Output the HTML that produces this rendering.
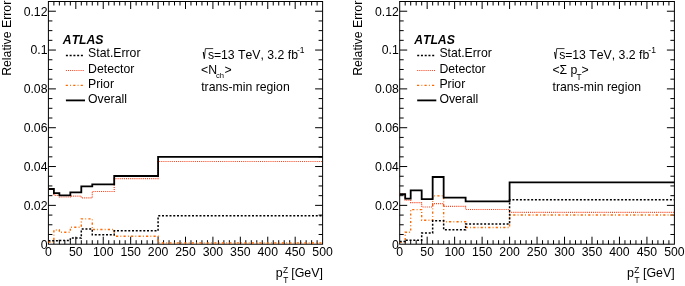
<!DOCTYPE html><html><head><meta charset="utf-8"><style>html,body{margin:0;padding:0;background:#fff;}body{width:685px;height:286px;overflow:hidden;}svg{display:block;will-change:transform;}text{font-family:"Liberation Sans",sans-serif;fill:#000;font-kerning:none;font-size:12.25px;}.bi{font-weight:bold;font-style:italic;}</style></head><body>
<svg width="685" height="286" viewBox="0 0 685 286">
<rect x="48.4" y="1.5" width="274.20" height="242.70" fill="none" stroke="#000" stroke-width="1"/>
<path d="M53.88,244.2 v-4 M53.88,1.5 v4 M59.37,244.2 v-4 M59.37,1.5 v4 M64.85,244.2 v-4 M64.85,1.5 v4 M70.34,244.2 v-4 M70.34,1.5 v4 M75.82,244.2 v-7.5 M75.82,1.5 v7.5 M81.30,244.2 v-4 M81.30,1.5 v4 M86.79,244.2 v-4 M86.79,1.5 v4 M92.27,244.2 v-4 M92.27,1.5 v4 M97.76,244.2 v-4 M97.76,1.5 v4 M103.24,244.2 v-7.5 M103.24,1.5 v7.5 M108.72,244.2 v-4 M108.72,1.5 v4 M114.21,244.2 v-4 M114.21,1.5 v4 M119.69,244.2 v-4 M119.69,1.5 v4 M125.18,244.2 v-4 M125.18,1.5 v4 M130.66,244.2 v-7.5 M130.66,1.5 v7.5 M136.14,244.2 v-4 M136.14,1.5 v4 M141.63,244.2 v-4 M141.63,1.5 v4 M147.11,244.2 v-4 M147.11,1.5 v4 M152.60,244.2 v-4 M152.60,1.5 v4 M158.08,244.2 v-7.5 M158.08,1.5 v7.5 M163.56,244.2 v-4 M163.56,1.5 v4 M169.05,244.2 v-4 M169.05,1.5 v4 M174.53,244.2 v-4 M174.53,1.5 v4 M180.02,244.2 v-4 M180.02,1.5 v4 M185.50,244.2 v-7.5 M185.50,1.5 v7.5 M190.98,244.2 v-4 M190.98,1.5 v4 M196.47,244.2 v-4 M196.47,1.5 v4 M201.95,244.2 v-4 M201.95,1.5 v4 M207.44,244.2 v-4 M207.44,1.5 v4 M212.92,244.2 v-7.5 M212.92,1.5 v7.5 M218.40,244.2 v-4 M218.40,1.5 v4 M223.89,244.2 v-4 M223.89,1.5 v4 M229.37,244.2 v-4 M229.37,1.5 v4 M234.86,244.2 v-4 M234.86,1.5 v4 M240.34,244.2 v-7.5 M240.34,1.5 v7.5 M245.82,244.2 v-4 M245.82,1.5 v4 M251.31,244.2 v-4 M251.31,1.5 v4 M256.79,244.2 v-4 M256.79,1.5 v4 M262.28,244.2 v-4 M262.28,1.5 v4 M267.76,244.2 v-7.5 M267.76,1.5 v7.5 M273.24,244.2 v-4 M273.24,1.5 v4 M278.73,244.2 v-4 M278.73,1.5 v4 M284.21,244.2 v-4 M284.21,1.5 v4 M289.70,244.2 v-4 M289.70,1.5 v4 M295.18,244.2 v-7.5 M295.18,1.5 v7.5 M300.66,244.2 v-4 M300.66,1.5 v4 M306.15,244.2 v-4 M306.15,1.5 v4 M311.63,244.2 v-4 M311.63,1.5 v4 M317.12,244.2 v-4 M317.12,1.5 v4 M48.4,234.49 h4 M322.6,234.49 h-4 M48.4,224.78 h4 M322.6,224.78 h-4 M48.4,215.08 h4 M322.6,215.08 h-4 M48.4,205.37 h7.5 M322.6,205.37 h-7.5 M48.4,195.66 h4 M322.6,195.66 h-4 M48.4,185.95 h4 M322.6,185.95 h-4 M48.4,176.25 h4 M322.6,176.25 h-4 M48.4,166.54 h7.5 M322.6,166.54 h-7.5 M48.4,156.83 h4 M322.6,156.83 h-4 M48.4,147.12 h4 M322.6,147.12 h-4 M48.4,137.42 h4 M322.6,137.42 h-4 M48.4,127.71 h7.5 M322.6,127.71 h-7.5 M48.4,118.00 h4 M322.6,118.00 h-4 M48.4,108.29 h4 M322.6,108.29 h-4 M48.4,98.59 h4 M322.6,98.59 h-4 M48.4,88.88 h7.5 M322.6,88.88 h-7.5 M48.4,79.17 h4 M322.6,79.17 h-4 M48.4,69.47 h4 M322.6,69.47 h-4 M48.4,59.76 h4 M322.6,59.76 h-4 M48.4,50.05 h7.5 M322.6,50.05 h-7.5 M48.4,40.34 h4 M322.6,40.34 h-4 M48.4,30.63 h4 M322.6,30.63 h-4 M48.4,20.93 h4 M322.6,20.93 h-4 M48.4,11.22 h7.5 M322.6,11.22 h-7.5 M48.4,1.51 h4 M322.6,1.51 h-4" stroke="#000" stroke-width="1" fill="none"/>
<path d="M48.40,242.00 H53.88 V230.00 H59.37 V232.20 H70.34 V227.20 H81.30 V218.90 H92.27 V229.50 H114.21 V236.30 H158.08 V243.00 H322.60" fill="none" stroke="#ff6a00" stroke-width="1.4" stroke-dasharray="2.2 2.2 0.9 2.2"/>
<path d="M48.40,189.00 H53.88 V195.30 H59.37 V197.00 H70.34 V196.20 H81.30 V197.80 H92.27 V191.50 H114.21 V178.70 H158.08 V161.50 H322.60" fill="none" stroke="#ff3c14" stroke-width="1.2" stroke-dasharray="1 1.1"/>
<path d="M48.40,240.80 H53.88 V240.80 H59.37 V240.50 H70.34 V238.00 H81.30 V229.10 H92.27 V234.80 H114.21 V230.80 H158.08 V215.80 H322.60" fill="none" stroke="#000" stroke-width="1.5" stroke-dasharray="2 1.75"/>
<path d="M48.40,189.00 H53.88 V193.20 H59.37 V195.40 H70.34 V192.40 H81.30 V186.30 H92.27 V184.30 H114.21 V176.00 H158.08 V156.90 H322.60" fill="none" stroke="#000" stroke-width="1.8"/>
<text x="47.50" y="248.60" text-anchor="end">0</text>
<text x="47.50" y="209.77" text-anchor="end">0.02</text>
<text x="47.50" y="170.94" text-anchor="end">0.04</text>
<text x="47.50" y="132.11" text-anchor="end">0.06</text>
<text x="47.50" y="93.28" text-anchor="end">0.08</text>
<text x="47.50" y="54.45" text-anchor="end">0.1</text>
<text x="47.50" y="15.62" text-anchor="end">0.12</text>
<text x="48.40" y="255.70" text-anchor="middle">0</text>
<text x="75.82" y="255.70" text-anchor="middle">50</text>
<text x="103.24" y="255.70" text-anchor="middle">100</text>
<text x="130.66" y="255.70" text-anchor="middle">150</text>
<text x="158.08" y="255.70" text-anchor="middle">200</text>
<text x="185.50" y="255.70" text-anchor="middle">250</text>
<text x="212.92" y="255.70" text-anchor="middle">300</text>
<text x="240.34" y="255.70" text-anchor="middle">350</text>
<text x="267.76" y="255.70" text-anchor="middle">400</text>
<text x="295.18" y="255.70" text-anchor="middle">450</text>
<text x="322.60" y="255.70" text-anchor="middle">500</text>
<text transform="translate(10.80,0.7) rotate(-90)" text-anchor="end" style="font-size:12.3px">Relative Error</text>
<text x="322.90" y="277.2" text-anchor="end" style="font-size:12.4px">[GeV]</text>
<text x="275.80" y="277.20" style="font-size:12.4px">p</text>
<text x="283.00" y="272.90" style="font-size:8.3px">Z</text>
<text x="283.20" y="282.60" style="font-size:8.3px">T</text>
<text x="62.85" y="43.60" class="bi" style="font-size:12.2px">ATLAS</text>
<text x="88.10" y="57.10" >Stat.Error</text>
<text x="88.10" y="72.80" >Detector</text>
<text x="88.10" y="87.80" >Prior</text>
<text x="88.10" y="103.00" >Overall</text>
<path d="M65.90,55.6 H84.00" fill="none" stroke="#000" stroke-width="1.5" stroke-dasharray="2 1.75"/>
<path d="M65.90,70.5 H84.50" fill="none" stroke="#ff3c14" stroke-width="1.2" stroke-dasharray="1 1.1"/>
<path d="M65.70,85.4 H84.00" fill="none" stroke="#ff6a00" stroke-width="1.4" stroke-dasharray="2.2 2.2 0.9 2.2"/>
<path d="M65.90,100.4 H85.00" fill="none" stroke="#000" stroke-width="1.8"/>
<path d="M203.30,52 L204.40,58.7" fill="none" stroke="#000" stroke-width="1.15"/>
<path d="M204.30,58.7 L205.40,48.6 H213.20" fill="none" stroke="#000" stroke-width="0.8"/>
<text x="207.90" y="58.80" >s=</text>
<text x="221.00" y="58.80" >13 TeV, 3.2 fb</text>
<text x="297.00" y="53.40" style="font-size:8.5px">-1</text>
<text x="201.10" y="73.60" >&lt;N</text>
<text x="216.00" y="77.70" style="font-size:7.6px">ch</text>
<text x="224.40" y="73.60" >&gt;</text>
<text x="201.20" y="90.80" >trans-min region</text>
<rect x="399.7" y="1.5" width="274.70" height="242.70" fill="none" stroke="#000" stroke-width="1"/>
<path d="M405.19,244.2 v-4 M405.19,1.5 v4 M410.69,244.2 v-4 M410.69,1.5 v4 M416.18,244.2 v-4 M416.18,1.5 v4 M421.68,244.2 v-4 M421.68,1.5 v4 M427.17,244.2 v-7.5 M427.17,1.5 v7.5 M432.66,244.2 v-4 M432.66,1.5 v4 M438.16,244.2 v-4 M438.16,1.5 v4 M443.65,244.2 v-4 M443.65,1.5 v4 M449.15,244.2 v-4 M449.15,1.5 v4 M454.64,244.2 v-7.5 M454.64,1.5 v7.5 M460.13,244.2 v-4 M460.13,1.5 v4 M465.63,244.2 v-4 M465.63,1.5 v4 M471.12,244.2 v-4 M471.12,1.5 v4 M476.62,244.2 v-4 M476.62,1.5 v4 M482.11,244.2 v-7.5 M482.11,1.5 v7.5 M487.60,244.2 v-4 M487.60,1.5 v4 M493.10,244.2 v-4 M493.10,1.5 v4 M498.59,244.2 v-4 M498.59,1.5 v4 M504.09,244.2 v-4 M504.09,1.5 v4 M509.58,244.2 v-7.5 M509.58,1.5 v7.5 M515.07,244.2 v-4 M515.07,1.5 v4 M520.57,244.2 v-4 M520.57,1.5 v4 M526.06,244.2 v-4 M526.06,1.5 v4 M531.56,244.2 v-4 M531.56,1.5 v4 M537.05,244.2 v-7.5 M537.05,1.5 v7.5 M542.54,244.2 v-4 M542.54,1.5 v4 M548.04,244.2 v-4 M548.04,1.5 v4 M553.53,244.2 v-4 M553.53,1.5 v4 M559.03,244.2 v-4 M559.03,1.5 v4 M564.52,244.2 v-7.5 M564.52,1.5 v7.5 M570.01,244.2 v-4 M570.01,1.5 v4 M575.51,244.2 v-4 M575.51,1.5 v4 M581.00,244.2 v-4 M581.00,1.5 v4 M586.50,244.2 v-4 M586.50,1.5 v4 M591.99,244.2 v-7.5 M591.99,1.5 v7.5 M597.48,244.2 v-4 M597.48,1.5 v4 M602.98,244.2 v-4 M602.98,1.5 v4 M608.47,244.2 v-4 M608.47,1.5 v4 M613.97,244.2 v-4 M613.97,1.5 v4 M619.46,244.2 v-7.5 M619.46,1.5 v7.5 M624.95,244.2 v-4 M624.95,1.5 v4 M630.45,244.2 v-4 M630.45,1.5 v4 M635.94,244.2 v-4 M635.94,1.5 v4 M641.44,244.2 v-4 M641.44,1.5 v4 M646.93,244.2 v-7.5 M646.93,1.5 v7.5 M652.42,244.2 v-4 M652.42,1.5 v4 M657.92,244.2 v-4 M657.92,1.5 v4 M663.41,244.2 v-4 M663.41,1.5 v4 M668.91,244.2 v-4 M668.91,1.5 v4 M399.7,234.49 h4 M674.4,234.49 h-4 M399.7,224.78 h4 M674.4,224.78 h-4 M399.7,215.08 h4 M674.4,215.08 h-4 M399.7,205.37 h7.5 M674.4,205.37 h-7.5 M399.7,195.66 h4 M674.4,195.66 h-4 M399.7,185.95 h4 M674.4,185.95 h-4 M399.7,176.25 h4 M674.4,176.25 h-4 M399.7,166.54 h7.5 M674.4,166.54 h-7.5 M399.7,156.83 h4 M674.4,156.83 h-4 M399.7,147.12 h4 M674.4,147.12 h-4 M399.7,137.42 h4 M674.4,137.42 h-4 M399.7,127.71 h7.5 M674.4,127.71 h-7.5 M399.7,118.00 h4 M674.4,118.00 h-4 M399.7,108.29 h4 M674.4,108.29 h-4 M399.7,98.59 h4 M674.4,98.59 h-4 M399.7,88.88 h7.5 M674.4,88.88 h-7.5 M399.7,79.17 h4 M674.4,79.17 h-4 M399.7,69.47 h4 M674.4,69.47 h-4 M399.7,59.76 h4 M674.4,59.76 h-4 M399.7,50.05 h7.5 M674.4,50.05 h-7.5 M399.7,40.34 h4 M674.4,40.34 h-4 M399.7,30.63 h4 M674.4,30.63 h-4 M399.7,20.93 h4 M674.4,20.93 h-4 M399.7,11.22 h7.5 M674.4,11.22 h-7.5 M399.7,1.51 h4 M674.4,1.51 h-4" stroke="#000" stroke-width="1" fill="none"/>
<path d="M399.70,242.10 H405.19 V232.20 H410.69 V209.60 H421.68 V220.20 H432.66 V195.90 H443.65 V221.70 H465.63 V227.50 H509.58 V215.00 H674.40" fill="none" stroke="#ff6a00" stroke-width="1.4" stroke-dasharray="2.2 2.2 0.9 2.2"/>
<path d="M399.70,194.20 H405.19 V200.20 H410.69 V202.60 H421.68 V207.00 H432.66 V203.60 H443.65 V206.40 H465.63 V209.50 H509.58 V212.40 H674.40" fill="none" stroke="#ff3c14" stroke-width="1.2" stroke-dasharray="1 1.1"/>
<path d="M399.70,241.60 H405.19 V240.20 H410.69 V240.20 H421.68 V233.10 H432.66 V220.80 H443.65 V229.80 H465.63 V224.00 H509.58 V199.80 H674.40" fill="none" stroke="#000" stroke-width="1.5" stroke-dasharray="2 1.75"/>
<path d="M399.70,194.20 H405.19 V198.60 H410.69 V190.40 H421.68 V199.20 H432.66 V177.00 H443.65 V197.60 H465.63 V201.30 H509.58 V182.40 H674.40" fill="none" stroke="#000" stroke-width="1.8"/>
<text x="398.80" y="248.60" text-anchor="end">0</text>
<text x="398.80" y="209.77" text-anchor="end">0.02</text>
<text x="398.80" y="170.94" text-anchor="end">0.04</text>
<text x="398.80" y="132.11" text-anchor="end">0.06</text>
<text x="398.80" y="93.28" text-anchor="end">0.08</text>
<text x="398.80" y="54.45" text-anchor="end">0.1</text>
<text x="398.80" y="15.62" text-anchor="end">0.12</text>
<text x="399.70" y="255.70" text-anchor="middle">0</text>
<text x="427.17" y="255.70" text-anchor="middle">50</text>
<text x="454.64" y="255.70" text-anchor="middle">100</text>
<text x="482.11" y="255.70" text-anchor="middle">150</text>
<text x="509.58" y="255.70" text-anchor="middle">200</text>
<text x="537.05" y="255.70" text-anchor="middle">250</text>
<text x="564.52" y="255.70" text-anchor="middle">300</text>
<text x="591.99" y="255.70" text-anchor="middle">350</text>
<text x="619.46" y="255.70" text-anchor="middle">400</text>
<text x="646.93" y="255.70" text-anchor="middle">450</text>
<text x="674.40" y="255.70" text-anchor="middle">500</text>
<text transform="translate(362.10,0.7) rotate(-90)" text-anchor="end" style="font-size:12.3px">Relative Error</text>
<text x="674.70" y="277.2" text-anchor="end" style="font-size:12.4px">[GeV]</text>
<text x="627.10" y="277.20" style="font-size:12.4px">p</text>
<text x="634.30" y="272.90" style="font-size:8.3px">Z</text>
<text x="634.50" y="282.60" style="font-size:8.3px">T</text>
<text x="414.15" y="43.60" class="bi" style="font-size:12.2px">ATLAS</text>
<text x="439.40" y="57.10" >Stat.Error</text>
<text x="439.40" y="72.80" >Detector</text>
<text x="439.40" y="87.80" >Prior</text>
<text x="439.40" y="103.00" >Overall</text>
<path d="M417.20,55.6 H435.30" fill="none" stroke="#000" stroke-width="1.5" stroke-dasharray="2 1.75"/>
<path d="M417.20,70.5 H435.80" fill="none" stroke="#ff3c14" stroke-width="1.2" stroke-dasharray="1 1.1"/>
<path d="M417.00,85.4 H435.30" fill="none" stroke="#ff6a00" stroke-width="1.4" stroke-dasharray="2.2 2.2 0.9 2.2"/>
<path d="M417.20,100.4 H436.30" fill="none" stroke="#000" stroke-width="1.8"/>
<path d="M554.60,52 L555.70,58.7" fill="none" stroke="#000" stroke-width="1.15"/>
<path d="M555.60,58.7 L556.70,48.6 H564.50" fill="none" stroke="#000" stroke-width="0.8"/>
<text x="559.20" y="58.80" >s=</text>
<text x="572.30" y="58.80" >13 TeV, 3.2 fb</text>
<text x="648.30" y="53.40" style="font-size:8.5px">-1</text>
<text x="552.40" y="74.00" >&lt;&#931; p</text>
<text x="576.60" y="79.70" style="font-size:8.3px">T</text>
<text x="581.50" y="74.00" >&gt;</text>
<text x="552.50" y="90.80" >trans-min region</text>
</svg></body></html>
